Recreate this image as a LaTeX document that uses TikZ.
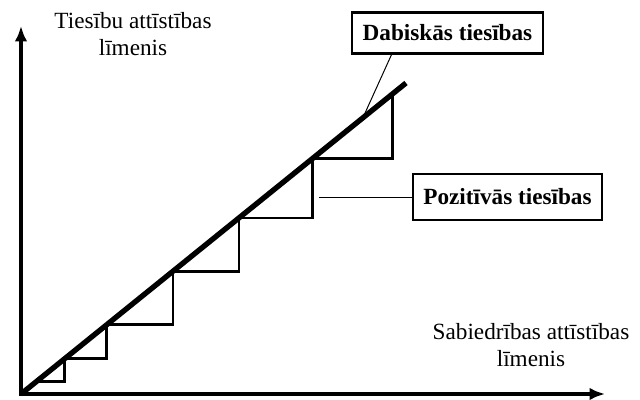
\documentclass[tikz,border=0pt]{standalone}
\usepackage{fontspec}
\setmainfont{Liberation Serif}
\usetikzlibrary{arrows.meta, calc}

\begin{document}
\begin{tikzpicture}[
    x=0.025cm, y=-0.025cm,
    axis/.style={{Latex[length=11pt,width=9pt]}-{Latex[length=11pt,width=9pt]}, line width=2.2pt},
    diag/.style={line width=3.8pt},
    stair/.style={line width=2pt},
    box/.style={rectangle, draw, line width=1.6pt, inner xsep=7.5pt, minimum height=29pt, font=\fontsize{16.5}{19}\selectfont\bfseries},
    axislabel/.style={align=center, font=\fontsize{16.5}{19.5}\selectfont},
    lead/.style={line width=0.7pt}
]
\useasboundingbox (0,0) rectangle (640,400);

\coordinate (O) at (21,394);
\coordinate (ytip) at (21,26);
\coordinate (xtip) at (605,394);
\coordinate (E) at (406,83);

% axes
\draw[axis] (ytip) -- (O) -- (xtip);
\node[axislabel] (ylab) at (133,34) {Tiesību attīstības\\līmenis};
\node[axislabel] (xlab) at (531,345) {Sabiedrības attīstības\\līmenis};

% staircase under the diagonal
\foreach \t [count=\i] in {0.039,0.114,0.223,0.395,0.566,0.758,0.964}
    \coordinate (s\i) at ($(O)!\t!(E)$);
\foreach \a/\b in {1/2,2/3,3/4,4/5,5/6,6/7}
    \draw[stair, line join=miter] (s\a) -- (s\b |- s\a) -- (s\b);

\draw[diag] (O) -- (E);

% labels
\node[box] (dab) at (447.5,33) {Dabiskās tiesības};
\node[box, minimum height=33pt] (poz) at (507.5,197) {Pozitīvās tiesības};

\coordinate (dabend) at ($(O)!0.888!(E)$);
\coordinate (pozend) at (319,197);
\draw[lead] ($(dab.south west)!0.21!(dab.south east)$) -- (dabend);
\draw[lead] (poz.west) -- (pozend);

\end{tikzpicture}
\end{document}
